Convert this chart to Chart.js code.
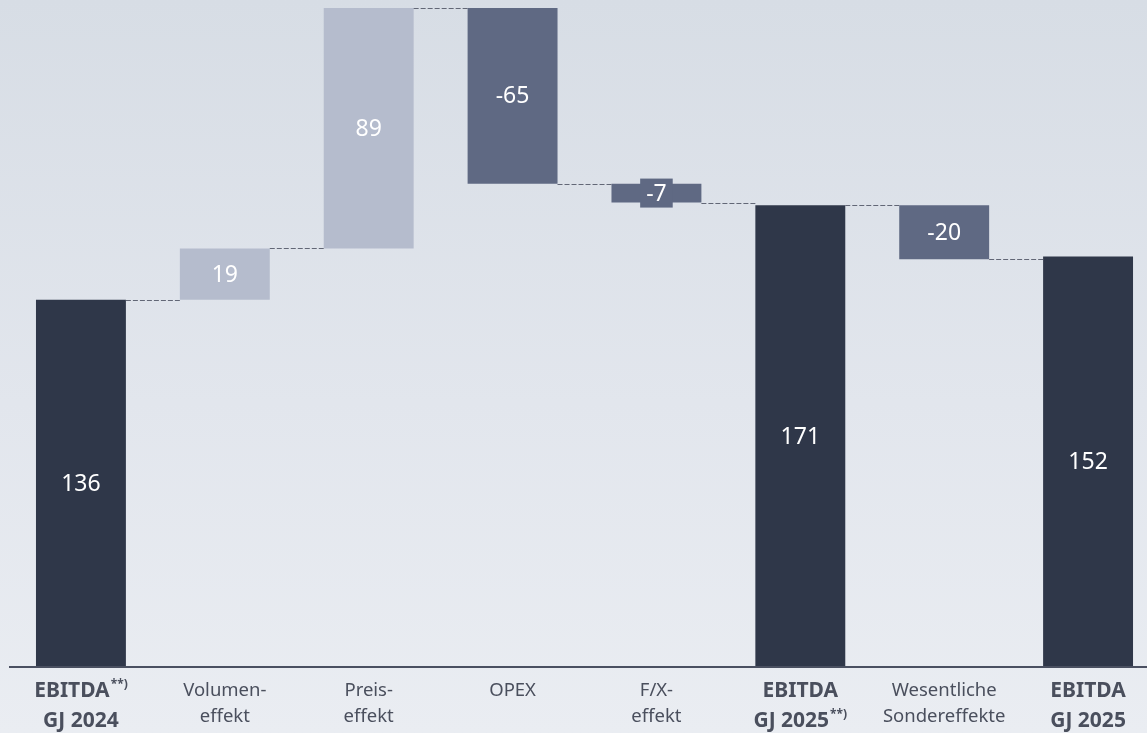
<!DOCTYPE html>
<html>
<head>
<meta charset="utf-8">
<script src="https://cdn.jsdelivr.net/npm/chart.js@4"></script>
<style>
  html, body { margin: 0; padding: 0; }
  body {
    width: 1147px; height: 733px; overflow: hidden;
    background: linear-gradient(to bottom, #d7dde5 0%, #e2e6ed 55%, #eaedf2 100%);
  }
  #wrap { position: relative; width: 1160px; height: 733px; }
</style>
</head>
<body>
<div id="wrap"><canvas id="bridgeChart"></canvas></div>
<script>
// category labels: line 1, line 2, superscript notes
const labelLine1 = ["EBITDA", "Volumen-", "Preis-", "OPEX", "F/X-", "EBITDA", "Wesentliche", "EBITDA"];
const labelLine2 = ["GJ 2024", "effekt", "effekt", "", "effekt", "GJ 2025", "Sondereffekte", "GJ 2025"];
const labelNote = ["**)", "", "", "", "", "", "", ""];
const labelNote2 = ["", "", "", "", "", "**)", "", ""];
const values = [136, 19, 89, -65, -7, 171, -20, 152];
const isTotal = [true, false, false, false, false, true, false, true];

const colTotal = '#2f3749';
const colUp = '#b5bccd';
const colDown = '#5f6983';

// build floating ranges
let running = 0;
const ranges = [];
const levels = [];
values.forEach((v, i) => {
    if (isTotal[i]) {
        ranges.push([0, v]);
        running = v;
    } else {
        ranges.push([running, running + v]);
        running += v;
    }
    levels.push(running);
});
const colors = values.map((v, i) => isTotal[i] ? colTotal : (v >= 0 ? colUp : colDown));

const bridgePlugin = {
    id: 'bridge',
    afterDatasetsDraw(chart) {
        const ctx = chart.ctx;
        const meta = chart.getDatasetMeta(0);
        const y = chart.scales.y;
        const x = chart.scales.x;
        const area = chart.chartArea;
        ctx.save();

        // connectors
        ctx.strokeStyle = '#626776';
        ctx.lineWidth = 1;
        ctx.setLineDash([5, 2]);
        for (let i = 0; i < meta.data.length - 1; i++) {
            const a = meta.data[i], b = meta.data[i + 1];
            const ly = Math.round(y.getPixelForValue(levels[i])) + 0.5;
            ctx.beginPath();
            ctx.moveTo(a.x + a.width / 2, ly);
            ctx.lineTo(b.x - b.width / 2, ly);
            ctx.stroke();
        }
        ctx.setLineDash([]);

        // axis line
        ctx.strokeStyle = '#4a5061';
        ctx.lineWidth = 2;
        ctx.beginPath();
        ctx.moveTo(area.left, area.bottom);
        ctx.lineTo(area.right, area.bottom);
        ctx.stroke();

        // value labels
        ctx.font = '23px "Noto Sans", "Open Sans", sans-serif';
        ctx.textAlign = 'center';
        ctx.textBaseline = 'middle';
        meta.data.forEach((bar, i) => {
            const top = Math.min(bar.y, bar.base), bottom = Math.max(bar.y, bar.base);
            const cy = (top + bottom) / 2;
            const txt = String(values[i]);
            if (bottom - top < 28) {
                const w = ctx.measureText(txt).width + 12;
                ctx.fillStyle = colors[i];
                ctx.fillRect(bar.x - w / 2, cy - 14.5, w, 29);
            }
            ctx.fillStyle = '#ffffff';
            ctx.fillText(txt, bar.x, cy + 1);
        });

        // category labels
        ctx.fillStyle = '#4a4f5d';
        ctx.textBaseline = 'alphabetic';
        for (let i = 0; i < labelLine1.length; i++) {
            const cx = x.getPixelForValue(i);
            const bold = isTotal[i];
            const f = bold ? 'bold 21px "Noto Sans", "Open Sans", sans-serif'
                           : '18.5px "Noto Sans", "Open Sans", sans-serif';
            const fs = 'bold 12px "Noto Sans", "Open Sans", sans-serif';
            const rows = bold ? [[labelLine1[i], labelNote[i], 697], [labelLine2[i], labelNote2[i], 727]]
                              : [[labelLine1[i], '', 696], [labelLine2[i], '', 722]];
            rows.forEach(([t, n, ty]) => {
                if (!t) return;
                ctx.font = f;
                const tw = ctx.measureText(t).width;
                ctx.font = fs;
                const nw = n ? ctx.measureText(n).width + 1 : 0;
                const start = cx - (tw + nw) / 2;
                ctx.font = f;
                ctx.textAlign = 'left';
                ctx.fillText(t, start, ty);
                if (n) {
                    ctx.font = fs;
                    ctx.fillText(n, start + tw + 1, ty - 9);
                }
            });
        }
        ctx.restore();
    }
};

new Chart(document.getElementById('bridgeChart'), {
    type: 'bar',
    data: {
        labels: labelLine1,
        datasets: [{
            data: ranges,
            backgroundColor: colors,
            borderWidth: 0,
            borderSkipped: false,
            barPercentage: 0.625,
            categoryPercentage: 1
        }]
    },
    options: {
        responsive: true,
        maintainAspectRatio: false,
        animation: false,
        layout: { padding: { left: 9, right: 0, top: 0, bottom: 66 } },
        plugins: {
            legend: { display: false },
            tooltip: { enabled: false }
        },
        scales: {
            x: { display: false },
            y: { display: false, min: 0, max: 247 }
        }
    },
    plugins: [bridgePlugin]
});
</script>
</body>
</html>
